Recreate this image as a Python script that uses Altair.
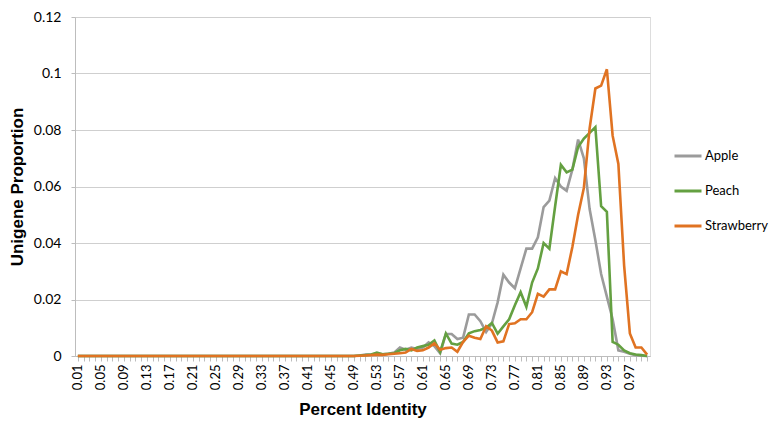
import altair as alt
import pandas as pd

identity = [f"{i/100:.2f}" for i in range(1, 101)]

apple = [
    0, 0, 0, 0, 0, 0, 0, 0, 0, 0,
    0, 0, 0, 0, 0, 0, 0, 0, 0, 0,
    0, 0, 0, 0, 0, 0, 0, 0, 0, 0,
    0, 0, 0, 0, 0, 0, 0, 0, 0, 0,
    0, 0, 0, 0, 0, 0, 0, 0, 0,
    0.0002, 0.0005, 0.0005, 0.0008, 0.0006, 0.0008, 0.0012, 0.0030, 0.0022, 0.0030,
    0.0025, 0.0030, 0.0048, 0.0035, 0.0010, 0.0078, 0.0078, 0.0060, 0.0065, 0.0147,
    0.0147, 0.0123, 0.0085, 0.0115, 0.0190, 0.0288, 0.0260, 0.0240, 0.0310, 0.0380,
    0.0380, 0.0420, 0.0527, 0.0550, 0.0630, 0.0600, 0.0585, 0.0660, 0.0766, 0.0700,
    0.0520, 0.0410, 0.0290, 0.0210, 0.0130, 0.0020, 0.0015, 0.0008, 0.0003, 0.0001,
    0.0,
]

peach = [
    0, 0, 0, 0, 0, 0, 0, 0, 0, 0,
    0, 0, 0, 0, 0, 0, 0, 0, 0, 0,
    0, 0, 0, 0, 0, 0, 0, 0, 0, 0,
    0, 0, 0, 0, 0, 0, 0, 0, 0, 0,
    0, 0, 0, 0, 0, 0, 0, 0, 0,
    0.0002, 0.0003, 0.0005, 0.0012, 0.0006, 0.0008, 0.0010, 0.0020, 0.0025, 0.0020,
    0.0030, 0.0035, 0.0040, 0.0055, 0.0014, 0.0080, 0.0044, 0.0040, 0.0050, 0.0080,
    0.0088, 0.0092, 0.0100, 0.0117, 0.0079, 0.0105, 0.0130, 0.0180, 0.0226, 0.0174,
    0.0260, 0.0310, 0.0400, 0.0380, 0.0530, 0.0677, 0.0650, 0.0660, 0.0740, 0.0770,
    0.0790, 0.0810, 0.0530, 0.0510, 0.0050, 0.0040, 0.0020, 0.0010, 0.0005, 0.0003,
    0.0,
]

strawberry = [
    0, 0, 0, 0, 0, 0, 0, 0, 0, 0,
    0, 0, 0, 0, 0, 0, 0, 0, 0, 0,
    0, 0, 0, 0, 0, 0, 0, 0, 0, 0,
    0, 0, 0, 0, 0, 0, 0, 0, 0, 0,
    0, 0, 0, 0, 0, 0, 0, 0, 0,
    0.0001, 0.0002, 0.0003, 0.0005, 0.0004, 0.0006, 0.0008, 0.0010, 0.0012, 0.0025,
    0.0018, 0.0020, 0.0030, 0.0045, 0.0022, 0.0028, 0.0030, 0.0015, 0.0050, 0.0072,
    0.0065, 0.0060, 0.0105, 0.0090, 0.0048, 0.0052, 0.0113, 0.0116, 0.0130, 0.0130,
    0.0155, 0.0220, 0.0210, 0.0236, 0.0236, 0.0300, 0.0290, 0.0386, 0.0500, 0.0595,
    0.0806, 0.0947, 0.0957, 0.1015, 0.0780, 0.0680, 0.0320, 0.0080, 0.0030, 0.0030,
    0.0005,
]

series_names = ["Apple", "Peach", "Strawberry"]
series_colors = ["#9b9b9b", "#64a041", "#e07322"]

rows = []
for name, vals in zip(series_names, [apple, peach, strawberry]):
    for pi, v in zip(identity, vals):
        rows.append({"identity": pi, "proportion": v, "species": name})
df = pd.DataFrame(rows)

label_font = "Lato"
title_font = "Liberation Sans"

chart = (
    alt.Chart(df)
    .mark_line(strokeWidth=2.6, interpolate="linear")
    .encode(
        x=alt.X(
            "identity:O",
            sort=identity,
            scale=alt.Scale(type="point", padding=0.5),
            axis=alt.Axis(
                title="Percent Identity",
                titleFont=title_font,
                titleFontSize=17,
                titleFontWeight="bold",
                titleColor="#000000",
                titlePadding=12,
                labelAngle=270,
                labelAlign="right",
                labelBaseline="middle",
                labelFont=label_font,
                labelFontSize=13,
                labelColor="#000000",
                labelPadding=3,
                labelOverlap=False,
                labelExpr="(round(toNumber(datum.value)*100)-1) % 4 == 0 ? datum.value : ''",
                tickSize=5,
                tickColor="#bdbdbd",
                domainColor="#bdbdbd",
                grid=False,
            ),
        ),
        y=alt.Y(
            "proportion:Q",
            scale=alt.Scale(domain=[0, 0.12], nice=False),
            axis=alt.Axis(
                title="Unigene Proportion",
                titleFont=title_font,
                titleFontSize=17,
                titleFontWeight="bold",
                titleColor="#000000",
                titlePadding=7,
                values=[0, 0.02, 0.04, 0.06, 0.08, 0.1, 0.12],
                format=".2~f",
                labelFont=label_font,
                labelFontSize=14,
                labelColor="#000000",
                labelPadding=10,
                tickSize=4,
                tickColor="#bdbdbd",
                domainColor="#bdbdbd",
                gridColor="#cfcfcf",
                gridWidth=1,
            ),
        ),
        color=alt.Color(
            "species:N",
            scale=alt.Scale(domain=series_names, range=series_colors),
            legend=alt.Legend(
                title=None,
                orient="none",
                legendX=598,
                legendY=124,
                symbolType="stroke",
                symbolSize=729,
                symbolStrokeWidth=3,
                labelFont=label_font,
                labelFontSize=13,
                labelColor="#000000",
                labelOffset=2,
                rowPadding=13,
                padding=0,
                labelLimit=0,
            ),
        ),
        order=alt.Order("species:N"),
    )
    .properties(
        width=575,
        height=339,
        autosize="none",
        padding={"left": 67, "top": 9, "right": 120, "bottom": 64},
    )
    .configure_view(stroke=None)
    .configure(background="#ffffff")
)

chart.save("out.html", embed_options={"renderer": "svg", "actions": False})
